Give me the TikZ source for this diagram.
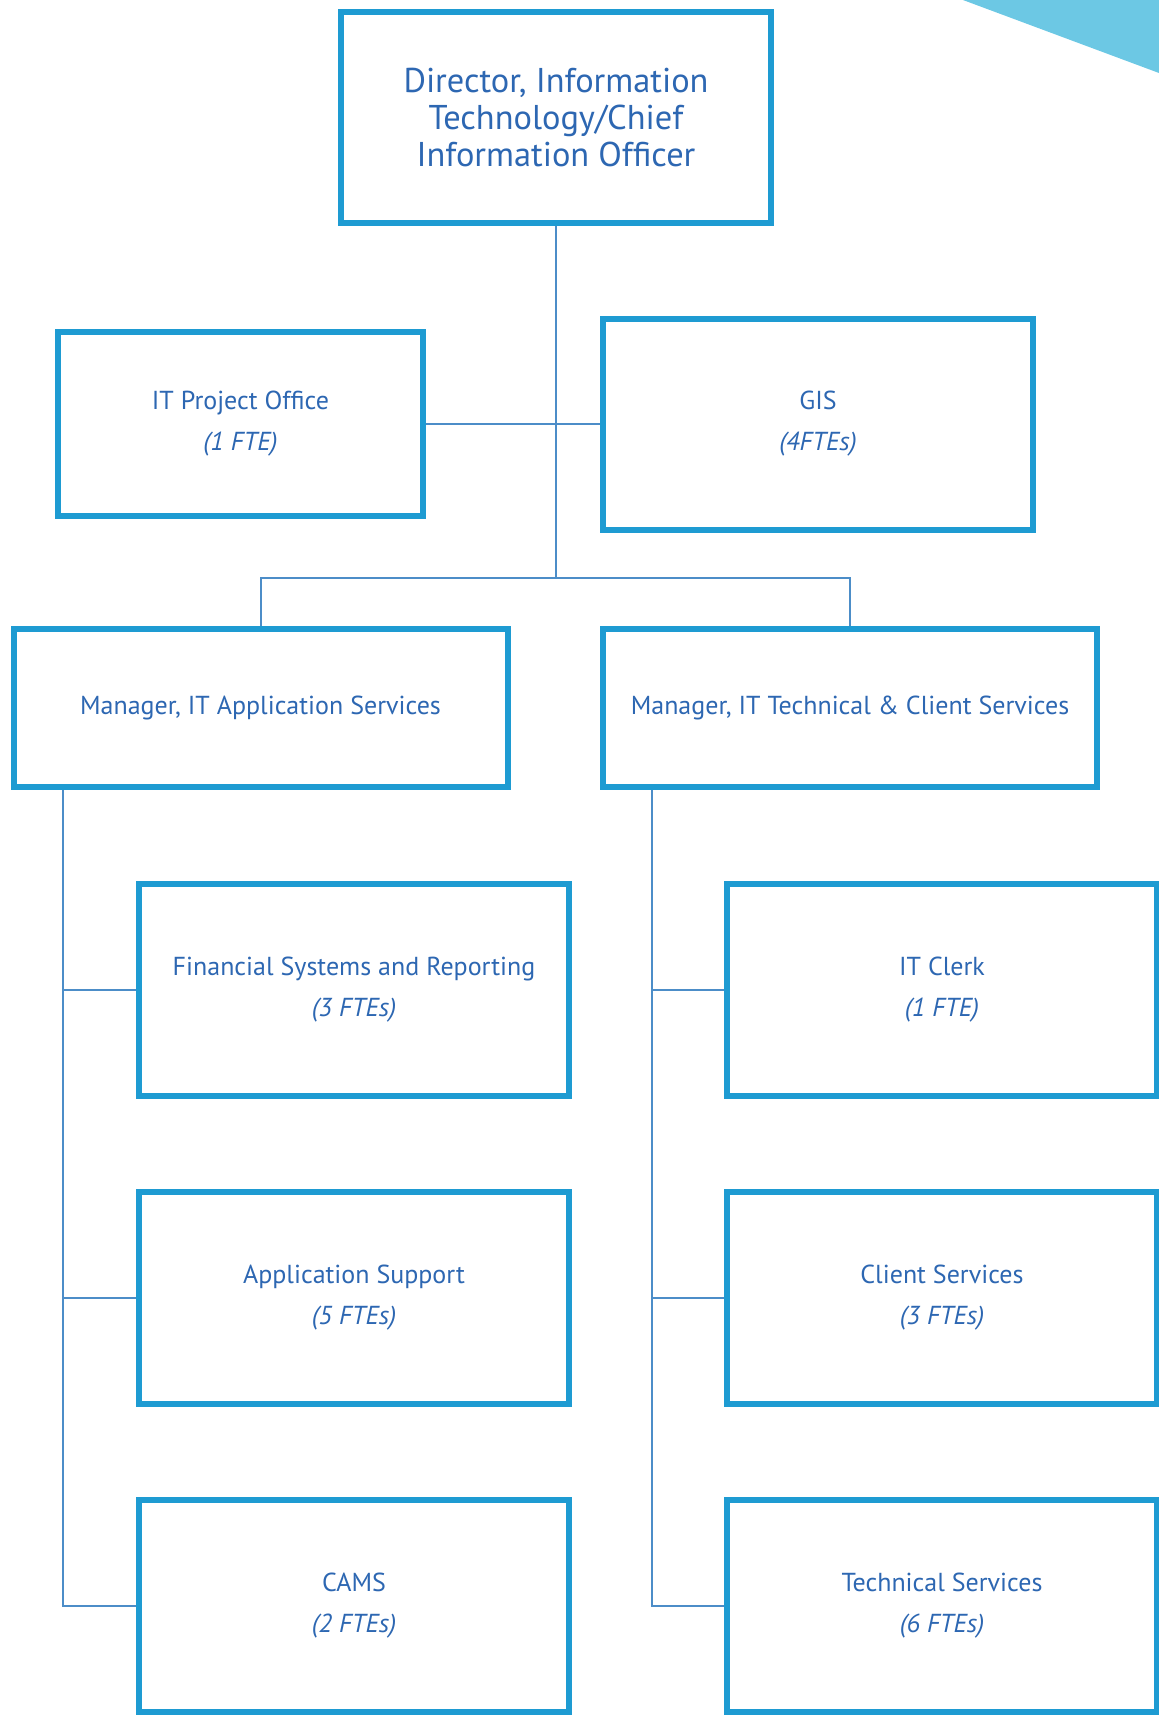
\documentclass[tikz,border=0pt]{standalone}
\usepackage{fontspec}
\setmainfont{PT Sans}
\usetikzlibrary{positioning}
\definecolor{boxblue}{HTML}{1E9BD2}
\definecolor{txtblue}{HTML}{2D67B2}
\definecolor{linkblue}{HTML}{4C8DC8}
\definecolor{wedge}{HTML}{6CC8E4}
\tikzset{
  unit/.style={draw=boxblue,line width=3pt,fill=white,text=txtblue,align=center,
    inner sep=0pt,font=\fontsize{13}{20.5}\selectfont},
  team/.style={unit,minimum width=215pt,minimum height=106pt},
  lead/.style={unit,minimum width=247pt,minimum height=79pt},
  link/.style={draw=linkblue,line width=1pt}
}
\begin{document}
\begin{tikzpicture}[x=0.5pt,y=-0.5pt]
\useasboundingbox (0,0) rectangle (1159,1721);
\fill[wedge] (963,0) -- (1159,0) -- (1159,73) -- cycle;

% top of the chart
\node[team,font=\fontsize{17.2}{18.7}\selectfont,minimum height=105.5pt] (dir) at (556,117.5)
  {Director, Information\\Technology/Chief\\Information Officer};
\node[unit,minimum width=182.5pt,minimum height=92pt] (ipo) at (240.5,424)
  {IT Project Office\\\textit{(1 FTE)}};
\node[team,minimum height=105.5pt] (gis) at (818,424) {GIS\\\textit{(4FTEs)}};

% managers
\node[lead] (mapp) at (260.5,708) {Manager, IT Application Services};
\node[lead] (mtech) at (850,708) {Manager, IT Technical \& Client Services};

% application services
\node[team] (fin) at (354,989.5) {Financial Systems and Reporting\\\textit{(3 FTEs)}};
\node[team] (apps) [below=45pt of fin] {Application Support\\\textit{(5 FTEs)}};
\node[team] (cams) [below=45pt of apps] {CAMS\\\textit{(2 FTEs)}};

% technical and client services
\node[team] (clerk) at (942,989.5) {IT Clerk\\\textit{(1 FTE)}};
\node[team] (cli) [below=45pt of clerk] {Client Services\\\textit{(3 FTEs)}};
\node[team] (tech) [below=45pt of cli] {Technical Services\\\textit{(6 FTEs)}};

\coordinate (bar) at (556,578);
\coordinate (lspine) at (63,790);
\coordinate (rspine) at (652,790);

\path[link] (dir.south) -- (bar)
  (ipo.east) -- (gis.west)
  (bar) -| (mapp.north)
  (bar) -| (mtech.north)
  (lspine) |- (cams.west)
  (lspine |- fin.west) -- (fin.west)
  (lspine |- apps.west) -- (apps.west)
  (rspine) |- (tech.west)
  (rspine |- clerk.west) -- (clerk.west)
  (rspine |- cli.west) -- (cli.west);
\end{tikzpicture}
\end{document}
